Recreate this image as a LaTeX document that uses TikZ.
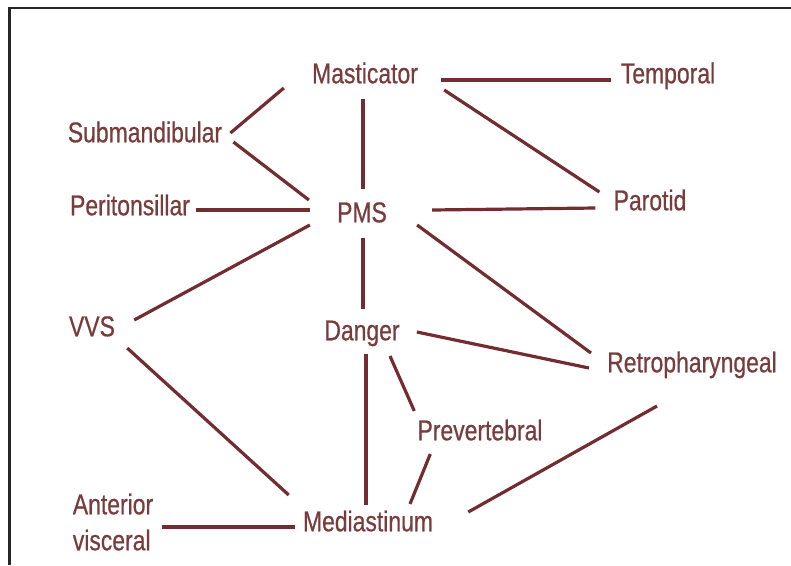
\documentclass[tikz,border=0pt]{standalone}
\usepackage{fontspec}
\setmainfont{Liberation Sans}[FakeStretch=0.8, FakeBold=0.6]
\usepackage{xcolor}
\usepackage{tikz}
\usetikzlibrary{positioning,calc}
\definecolor{spacered}{RGB}{115,45,50}
\definecolor{spacetext}{RGB}{120,60,60}

\begin{document}
\begin{tikzpicture}[x=0.75pt,y=-0.75pt,
    space/.style={text=spacetext, inner sep=0pt, font=\fontsize{21.5}{27}\selectfont, text height=15.4pt, text depth=0pt},
    link/.style={draw=spacered, line width=2.4pt}]
    \useasboundingbox (0,0) rectangle (791,565);

    % Frame
    \draw[line width=1.6pt, black!85] (9.5,565) -- (9.5,8) -- (791,8);

    % Spaces
    \node[space] (mast) at (365,73) {Masticator};
    \node[space] (temp) at (668,73) {Temporal};
    \node[space] (subm) at (145,132) {Submandibular};
    \node[space] (peri) at (130,205) {Peritonsillar};
    \node[space] (pms) at (362,212) {PMS};
    \node[space] (par) at (650,200) {Parotid};
    \node[space] (vvs) at (92,326) {VVS};
    \node[space] (dang) at (362,330) {Danger};
    \node[space] (retro) at (692,362) {Retropharyngeal};
    \node[space] (prev) at (480,430) {Prevertebral};
    \node[space] (med) at (368,521) {Mediastinum};
    \node[space, align=left] (ant) at (113,540) {Anterior\\visceral};

    % Links from the top
    \draw[link] ([shift={(23,7)}]mast.east) -- ([shift={(-10,7)}]temp.west);
    \draw[link] ([shift={(26,17)}]mast.east) -- ([shift={(-14,-8)}]par.west);
    \draw[link] ([shift={(-2,15.5)}]mast.south) -- ([shift={(1,-12.5)}]pms.north);
    \draw[link] ([shift={(8,1)}]subm.east) -- ([shift={(-28,15)}]mast.west);
    \draw[link] ([shift={(11,10)}]subm.east) -- ([shift={(-28,-12)}]pms.west);
    \draw[link] ([shift={(6,5)}]peri.east) -- ([shift={(-27,-2)}]pms.west);
    \draw[link] ([shift={(45,-2)}]pms.east) -- ([shift={(-18,8)}]par.west);

    % Links round PMS and Danger
    \draw[link] ([shift={(-27,13)}]pms.west) -- ([shift={(19,-6)}]vvs.east);
    \draw[link] ([shift={(30,13)}]pms.east) -- ([shift={(-16,-9)}]retro.west);
    \draw[link] ([shift={(1,15.5)}]pms.south) -- ([shift={(1,-10.5)}]dang.north);
    \draw[link] ([shift={(17,2)}]dang.east) -- ([shift={(-18,6)}]retro.west);
    \draw[link] ([shift={(4,13.5)}]dang.south) -- ([shift={(-2,-5.5)}]med.north);
    \draw[link] ([shift={(28,15.5)}]dang.south) -- ([shift={(-3,-8.5)}]prev.north west);

    % Links to Mediastinum
    \draw[link] ([shift={(13,13.5)}]prev.south west) -- ([shift={(42,-6.5)}]med.north);
    \draw[link] ([shift={(-35,33.5)}]retro.south) -- ([shift={(35,-9)}]med.east);
    \draw[link] ([shift={(12,11.5)}]vvs.south east) -- ([shift={(-14,-26)}]med.west);
    \draw[link] ([shift={(9,-13)}]ant.east) -- ([shift={(-8,6)}]med.west);
\end{tikzpicture}
\end{document}
